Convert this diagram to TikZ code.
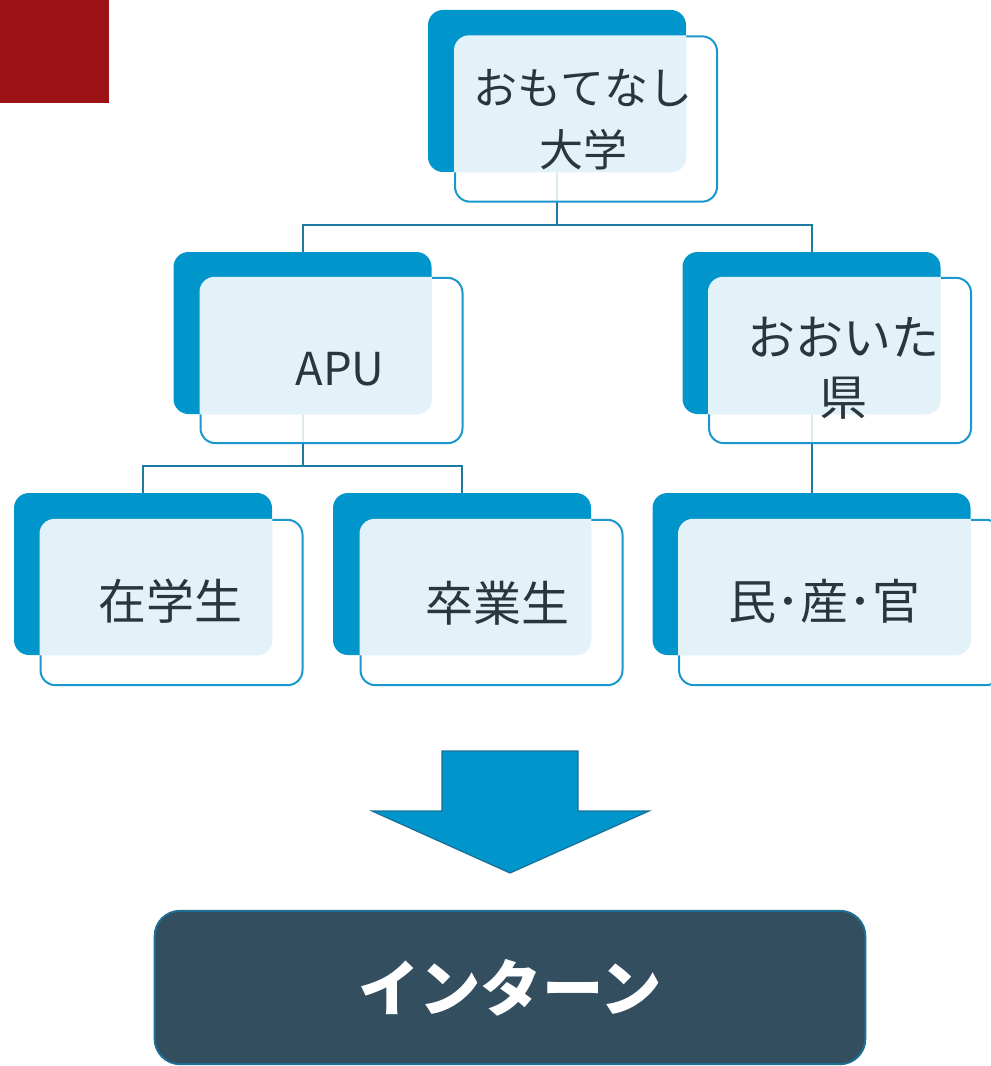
\documentclass[tikz,border=0pt]{standalone}
\usepackage{fontspec}
\newfontfamily\jp{Noto Sans CJK JP}
\usetikzlibrary{calc}
\pgfdeclarelayer{bg}
\pgfsetlayers{bg,main}
\definecolor{cdark}{HTML}{0096CB}
\definecolor{clight}{HTML}{E3F2F8}
\definecolor{cborder}{HTML}{1A97CC}
\definecolor{cconn}{HTML}{1C7BA5}
\definecolor{ctext}{HTML}{29363E}
\definecolor{cred}{HTML}{9B1116}
\definecolor{cnavy}{HTML}{324E5F}
\definecolor{cnavyb}{HTML}{1F6E93}
\definecolor{carrowb}{HTML}{1A6F97}
\newcommand\lightpart[2]{%
  \begin{scope}
    \clip[rounded corners=11.25pt] (#2.south west) rectangle (#2.north east);
    \fill[clight, rounded corners=11.25pt] (#1.south west) rectangle (#1.north east);
  \end{scope}}
\begin{document}
\begin{tikzpicture}[x=0.75pt,y=-0.75pt,
  backbox/.style={fill=cdark, draw=none, rounded corners=11.25pt, inner sep=0pt,
    minimum width=193.5pt, minimum height=121.5pt},
  frontbox/.style={fill=white, fill opacity=0.85, draw=cborder, line width=1.5pt,
    rounded corners=11.25pt, inner sep=0pt, minimum width=196.5pt, minimum height=124pt},
  txt/.style={text=ctext, align=center, inner sep=0pt,
    font=\jp\fontsize{36}{45}\selectfont},
  conn/.style={draw=cconn, line width=1.5pt}]
\useasboundingbox (0,0) rectangle (990,1066);
\fill[cred] (0,0) rectangle (109,103);
% boxes
\node[backbox] (b0) at (557,91) {};
\node[frontbox] (f0) at (586,119) {};
\lightpart{b0}{f0}
\node[txt, font=\jp\fontsize{33}{46.5}\selectfont] (t0) at (583,120) {おもてなし\\大学};

\node[backbox] (b1) at (302.5,333) {};
\node[frontbox] (f1) at (331.5,360.5) {};
\lightpart{b1}{f1}
\node[txt, font=\jp\fontsize{34}{45}\selectfont] (t1) at (340,369) {APU};

\node[backbox] (b2) at (811.5,333) {};
\node[frontbox] (f2) at (840,360.5) {};
\lightpart{b2}{f2}
\node[txt] (t2) at (843,368) {おおいた\\県};

\node[backbox] (b3) at (143,574) {};
\node[frontbox] (f3) at (171.5,602.5) {};
\lightpart{b3}{f3}
\node[txt] (t3) at (170,601) {在学生};

\node[backbox] (b4) at (462,574) {};
\node[frontbox] (f4) at (491.5,602.5) {};
\lightpart{b4}{f4}
\node[txt] (t4) at (497,603) {卒業生};

\node[backbox, minimum width=238.5pt] (b5) at (811.5,574) {};
\node[frontbox, minimum width=241.5pt] (f5) at (840,602.5) {};
\lightpart{b5}{f5}
\node[txt] (t5) at (824,601) {民･産･官};
% connectors
\begin{pgfonlayer}{bg}
\draw[conn] (b0.south) -- (b0.south |- 0,225) coordinate (j0) -| (b1.north);
\draw[conn] (j0) -| (b2.north);
\draw[conn] (b1.south) -- (b1.south |- 0,466) coordinate (j1) -| (b3.north);
\draw[conn] (j1) -| (b4.north);
\draw[conn] (b2.south) -- (b5.north);
\end{pgfonlayer}
% arrow
\draw[fill=cdark, draw=carrowb, line width=0.9pt, line join=miter]
  (442,751) -- (578,751) -- (578,811) -- (649,811) -- (510,873) -- (372,811) -- (442,811) -- cycle;
% bottom box
\node[fill=cnavy, draw=cnavyb, line width=1.5pt, rounded corners=19pt, inner sep=0pt,
  minimum width=533pt, minimum height=115pt, text=white,
  font=\jp\bfseries\fontsize{46}{50}\selectfont] (intern) at (510,987.5) {インターン};
\end{tikzpicture}
\end{document}
